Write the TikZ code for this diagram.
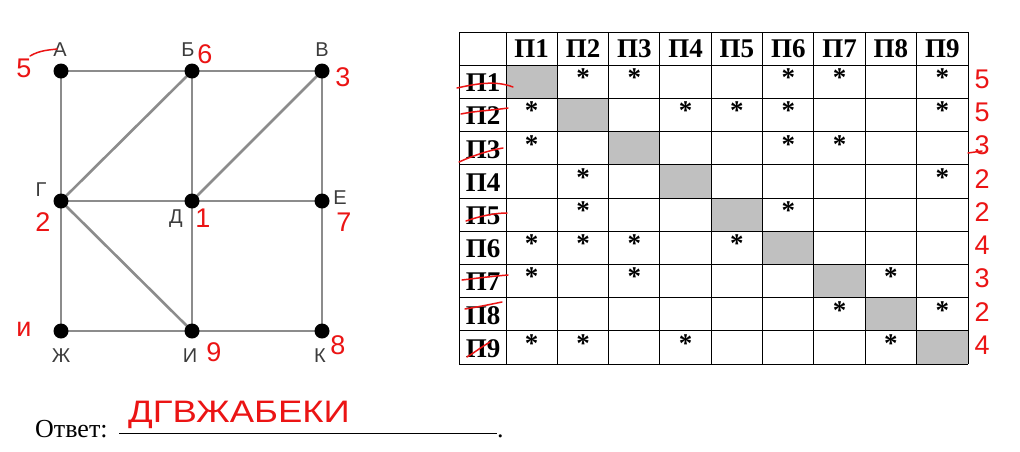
\documentclass[tikz,border=0pt]{standalone}
\usepackage{fontspec}
\setmainfont{Liberation Serif}
\newfontfamily\lsans{Liberation Sans}
\definecolor{edgegray}{RGB}{140,140,140}
\definecolor{cellgray}{RGB}{192,192,192}
\definecolor{inkred}{RGB}{235,20,20}
\definecolor{lblgray}{RGB}{60,60,60}
\tikzset{
  vdot/.style={circle,fill=black,inner sep=0pt,minimum size=15pt},
  edge/.style={draw=edgegray,line width=2.6pt},
  vlabel/.style={font=\lsans\fontsize{20}{20}\selectfont,text=lblgray,inner sep=0pt},
  ink/.style={font=\lsans\fontsize{27}{27}\selectfont,text=inkred,inner sep=0pt},
  inkline/.style={draw=inkred,line width=1.5pt,line cap=round},
  hdr/.style={font=\fontsize{27}{27}\selectfont\bfseries,inner sep=0pt},
  star/.style={font=\fontsize{27}{27}\selectfont\bfseries,inner sep=0pt},
}
\begin{document}
\begin{tikzpicture}[x=1pt,y=-1pt]
\useasboundingbox[fill=white] (0,0) rectangle (1020,451);
% ---------- graph ----------
\foreach \n/\x/\y in {a/61/71,b/192/71,v/322/71,g/61/201,d/192/201,e/322/201,zh/61/331,i/192/331,k/322/331}
  \coordinate (\n) at (\x,\y);
\foreach \p/\q in {a/b,b/v,a/g,b/g,b/d,v/d,v/e,g/d,d/e,g/zh,g/i,d/i,e/k,zh/i,i/k}
  \draw[edge] (\p) -- (\q);
\foreach \n in {a,b,v,g,d,e,zh,i,k}
  \node[vdot] (n\n) at (\n) {};
\node[vlabel] (la) at (60,50) {А};
\node[vlabel] (lb) at (188,50) {Б};
\node[vlabel] (lv) at (322,50) {В};
\node[vlabel] (lg) at (41,190) {Г};
\node[vlabel] (ld) at (176,219) {Д};
\node[vlabel] (le) at (340,198) {Е};
\node[vlabel] (lzh) at (61,356) {Ж};
\node[vlabel] (li) at (190,356) {И};
\node[vlabel] (lk) at (320,356) {К};
% handwritten numbers at vertices
\node[ink] (ha) at (24,68) {5};
\draw[inkline] (30,56) .. controls (40,50) and (50,50) .. (57,49);
\node[ink] (hb) at (205,54) {6};
\node[ink] (hv) at (343,77) {3};
\node[ink] (hg) at (43,222) {2};
\node[ink] (hd) at (203,218) {1};
\node[ink] (he) at (344,222) {7};
\node[ink] (hzh) at (24,329) {и};
\node[ink] (hi) at (214,352) {9};
\node[ink] (hk) at (338,345) {8};
% ---------- table ----------
\foreach \r in {1,...,9}{
  \fill[cellgray] ({506+(\r-1)*51.33},{32+\r*33.2}) rectangle ({506+\r*51.33},{32+(\r+1)*33.2});
}
\foreach \c in {0,...,9}
  \draw[line width=1pt] ({\c==0 ? 459 : 506+(\c-1)*51.33},32) -- ({\c==0 ? 459 : 506+(\c-1)*51.33},364);
\draw[line width=1pt] (968,32) -- (968,364);
\foreach \r in {0,...,10}
  \draw[line width=1pt] (459,{32+\r*33.2}) -- (968,{32+\r*33.2});
\foreach \c in {1,...,9}{
  \node[hdr] (col\c) at ({506+(\c-0.5)*51.33},49) {П\c};
  \node[hdr] (row\c) at (483,{32+(\c+0.5)*33.2+1}) {П\c};
}
\foreach \r/\cs in {1/{2,3,6,7,9},2/{1,4,5,6,9},3/{1,6,7},4/{2,9},5/{2,6},6/{1,2,3,5},7/{1,3,8},8/{7,9},9/{1,2,4,8}}{
  \foreach \c in \cs
    \node[star] (s\r-\c) at ({506+(\c-0.5)*51.33},{32+\r*33.2+12.5}) {*};
}
% red strike-throughs
\draw[inkline] (457,88) .. controls (475,84) and (495,80) .. (513,87);
\draw[inkline] (461,114) .. controls (475,111) and (495,110) .. (508,108);
\draw[inkline] (459,162) .. controls (472,156) and (490,150) .. (503,148);
\draw[inkline] (466,221) .. controls (480,216) and (495,213) .. (507,213);
\draw[inkline] (462,280) .. controls (478,278) and (495,276) .. (508,275);
\draw[inkline] (465,309) .. controls (478,307) and (492,304) .. (502,302);
\draw[inkline] (467,357) .. controls (475,352) and (483,346) .. (490,342);
% red row counts
\foreach \r/\v in {1/5,2/5,3/3,4/2,5/2,6/4,7/3,8/2,9/4}
  \node[ink] (cnt\r) at (982,{32+\r*33.2+14}) {\v};
\draw[inkline] (968,153) -- (982,151);
% ---------- answer ----------
\node[font=\fontsize{26}{26}\selectfont,anchor=base west,inner sep=0pt] (otv) at (35,437) {Ответ:};
\coordinate (l1) at (119,433);
\coordinate (l2) at (497,433);
\draw[line width=0.9pt] (l1) -- (l2);
\node[font=\fontsize{26}{26}\selectfont,anchor=base west,inner sep=0pt] (dot) at (497,437) {.};
\node[ink,anchor=west] (ans) at (128,415) {\scalebox{1.35}[1.15]{ДГВЖАБЕКИ}};
\end{tikzpicture}
\end{document}
